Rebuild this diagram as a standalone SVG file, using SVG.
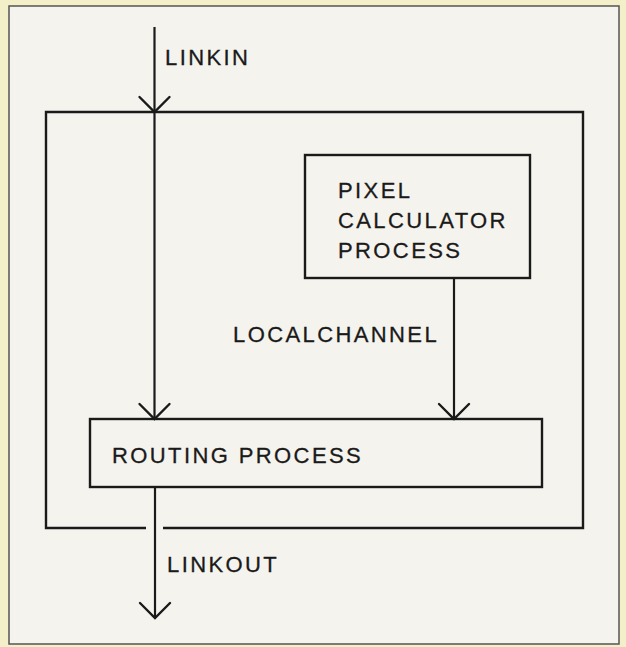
<svg xmlns="http://www.w3.org/2000/svg" width="626" height="647" viewBox="0 0 626 647">
<style>
.box{fill:none;stroke:#1a1a1a;stroke-width:2.4}
.ln{fill:none;stroke:#1a1a1a;stroke-width:2.2}
.head{fill:none;stroke:#1a1a1a;stroke-width:2.4;stroke-linecap:round;stroke-linejoin:miter}
text{font-family:"Liberation Sans",Arial,sans-serif;font-size:22px;fill:#1a1a1a;stroke:#1a1a1a;stroke-width:0.3;letter-spacing:2.4px}
</style>
<rect x="0" y="0" width="626" height="647" fill="#f3efc9"/>
<rect x="9" y="6" width="610" height="638" fill="#f5f3ed" stroke="#555" stroke-width="1.5"/>
<g id="container">
<path class="box" d="M146 528 H46 V112 H583 V528 H163"/>
</g>
<g id="pixel">
<rect class="box" x="305" y="155" width="225" height="123"/>
<text x="338" y="198">PIXEL</text>
<text x="338" y="228" letter-spacing="2.1">CALCULATOR</text>
<text x="338" y="258">PROCESS</text>
</g>
<g id="routing">
<rect class="box" x="90" y="419" width="452" height="68"/>
<text x="112" y="463" letter-spacing="1.9">ROUTING PROCESS</text>
</g>
<g id="connectors">
<line class="ln" x1="154.5" y1="27" x2="154.5" y2="419"/>
<path class="head" d="M139.5 97 L154.5 112 L169.5 97"/>
<path class="head" d="M139.5 404 L154.5 419 L169.5 404"/>
<line class="ln" x1="454" y1="278" x2="454" y2="419"/>
<path class="head" d="M439 404 L454 419 L469 404"/>
<line class="ln" x1="155" y1="487" x2="155" y2="618"/>
<path class="head" d="M140 603 L155 618 L170 603"/>
<text x="165" y="65" letter-spacing="3.8">LINKIN</text>
<text x="233" y="342" letter-spacing="3.1">LOCALCHANNEL</text>
<text x="167" y="572">LINKOUT</text>
</g>
</svg>
